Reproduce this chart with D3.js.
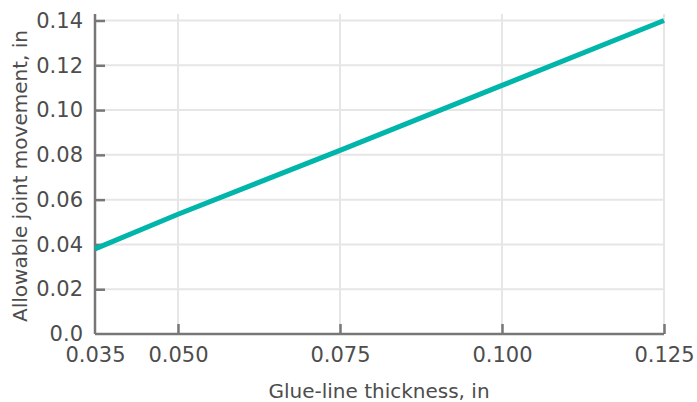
<!DOCTYPE html>
<html>
<head>
<meta charset="utf-8">
<script src="https://cdn.jsdelivr.net/npm/d3@7"></script>
<style>
  html, body { margin: 0; padding: 0; background: #fff; }
  svg text { font-family: "DejaVu Sans", sans-serif; fill: #4d4d4d; }
</style>
</head>
<body>
<svg id="chart" width="697" height="402"></svg>
<script>
// Data
const thickness = [0.035, 0.050, 0.075, 0.100, 0.125];
const movement  = [0.038, 0.0535, 0.082, 0.111, 0.140];
const xTicks = [0.035, 0.050, 0.075, 0.100, 0.125];
const yTicks = [0.0, 0.02, 0.04, 0.06, 0.08, 0.10, 0.12, 0.14];
const xTitle = "Glue-line thickness, in";
const yTitle = "Allowable joint movement, in";

const svg = d3.select("#chart");
const mLeft = 95, mRight = 664, mTop = 14, mBottom = 334;

// The reference axis is not uniform between 0.035 and 0.050
const x = d3.scaleLinear()
  .domain([0.035, 0.050, 0.125])
  .range([mLeft, 178, mRight]);
const y = d3.scaleLinear().domain([0, 0.14]).range([mBottom, 20.5]);

// gridlines
const grid = svg.append("g");
grid.selectAll("line.h").data(yTicks.filter(d => d > 0)).join("line")
  .attr("class", "h")
  .attr("x1", mLeft).attr("x2", mRight)
  .attr("y1", d => y(d)).attr("y2", d => y(d))
  .attr("stroke", "#e6e6e6").attr("stroke-width", 2);
grid.selectAll("line.v").data(xTicks.slice(1)).join("line")
  .attr("class", "v")
  .attr("x1", d => x(d)).attr("x2", d => x(d))
  .attr("y1", mTop).attr("y2", mBottom)
  .attr("stroke", "#e6e6e6").attr("stroke-width", 2);

// axes
const fmtX = d3.format(".3f");
const fmtY = d => d === 0 ? "0.0" : d3.format(".2f")(d);

const xAxis = svg.append("g").attr("transform", `translate(0,${mBottom})`)
  .call(d3.axisBottom(x).tickValues(xTicks).tickFormat(fmtX).tickSizeInner(-10).tickSizeOuter(0).tickPadding(13));
const yAxis = svg.append("g").attr("transform", `translate(${mLeft},0)`)
  .call(d3.axisLeft(y).tickValues(yTicks).tickFormat(fmtY).tickSizeInner(-10).tickSizeOuter(0).tickPadding(12));

[xAxis, yAxis].forEach(a => {
  a.select(".domain").attr("stroke", "#777").attr("stroke-width", 2.5);
  a.selectAll(".tick line").attr("stroke", "#777").attr("stroke-width", 2.5);
  a.selectAll(".tick text").attr("font-size", 21).attr("fill", "#4d4d4d")
    .style("font-family", '"DejaVu Sans", sans-serif');
});
xAxis.selectAll(".tick").filter(d => d === 0.035).select("line").remove();
yAxis.selectAll(".tick").filter(d => d === 0).select("line").remove();
yAxis.selectAll(".tick text").attr("x", -12);
xAxis.select(".domain").attr("d", `M${mLeft},0H${mRight}`);
yAxis.select(".domain").attr("d", `M0,${mTop}V${mBottom}`);

// line
const line = d3.line().x((d, i) => x(thickness[i])).y(d => y(d));
svg.append("path").datum(movement)
  .attr("d", line)
  .attr("fill", "none")
  .attr("stroke", "#00b5a9")
  .attr("stroke-width", 5);

// titles
svg.append("text").attr("x", 379).attr("y", 398)
  .attr("text-anchor", "middle").attr("font-size", 20).text(xTitle);
svg.append("text").attr("transform", "translate(27,176) rotate(-90)")
  .attr("text-anchor", "middle").attr("font-size", 20).text(yTitle);
</script>
</body>
</html>
